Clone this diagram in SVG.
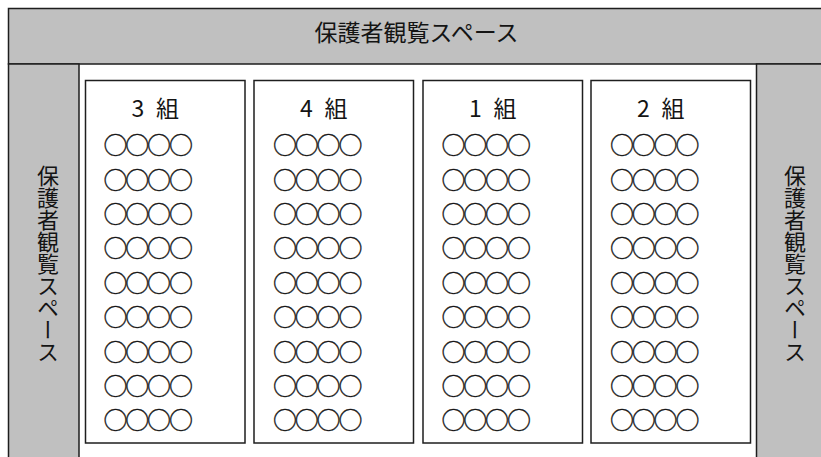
<svg xmlns="http://www.w3.org/2000/svg" width="821" height="457" viewBox="0 0 821 457">
<style>
.area{fill:#c0c0c0;stroke:#1e1e1e;stroke-width:1.5}
.box{fill:#fff;stroke:#1e1e1e;stroke-width:1.5}
.t{font-family:"Noto Sans CJK JP","Noto Sans",sans-serif;font-size:22px;fill:#141414}
.h{font-size:23px}
.v{writing-mode:vertical-rl;text-anchor:middle}
.c{font-size:24px;letter-spacing:-2.2px;stroke:#1a1a1a;stroke-width:0.35}
</style>
<rect x="0" y="0" width="821" height="457" fill="#fff"/>
<g id="top-space">
<rect class="area" x="8.5" y="8.5" width="830" height="55.5"/>
<text class="t" x="416.5" y="40.5" text-anchor="middle" style="font-size:23px">保護者観覧スペース</text>
</g>
<g id="left-space">
<rect class="area" x="8.5" y="64" width="70.5" height="400"/>
<text class="t v" x="48" y="264">保護者観覧スペース</text>
</g>
<g id="right-space">
<rect class="area" x="756.5" y="64" width="80" height="400"/>
<text class="t v" x="795" y="264">保護者観覧スペース</text>
</g>
<defs>
<g id="rows">
<text class="t c" x="0" y="154.2">○○○○</text>
<text class="t c" x="0" y="188.6">○○○○</text>
<text class="t c" x="0" y="223">○○○○</text>
<text class="t c" x="0" y="257.4">○○○○</text>
<text class="t c" x="0" y="291.8">○○○○</text>
<text class="t c" x="0" y="326.2">○○○○</text>
<text class="t c" x="0" y="360.6">○○○○</text>
<text class="t c" x="0" y="395">○○○○</text>
<text class="t c" x="0" y="429.4">○○○○</text>
</g>
</defs>
<g id="class3">
<rect class="box" x="85.5" y="80.5" width="159.5" height="362.5"/>
<text class="t h" x="131.5" y="116.5">3 <tspan x="156">組</tspan></text>
<use href="#rows" x="103.5"/>
</g>
<g id="class4">
<rect class="box" x="254" y="80.5" width="159.5" height="362.5"/>
<text class="t h" x="300" y="116.5">4 <tspan x="324.5">組</tspan></text>
<use href="#rows" x="273"/>
</g>
<g id="class1">
<rect class="box" x="423" y="80.5" width="159.5" height="362.5"/>
<text class="t h" x="469" y="116.5">1 <tspan x="493.5">組</tspan></text>
<use href="#rows" x="441.5"/>
</g>
<g id="class2">
<rect class="box" x="591" y="80.5" width="159.5" height="362.5"/>
<text class="t h" x="637" y="116.5">2 <tspan x="661.5">組</tspan></text>
<use href="#rows" x="610"/>
</g>
</svg>
